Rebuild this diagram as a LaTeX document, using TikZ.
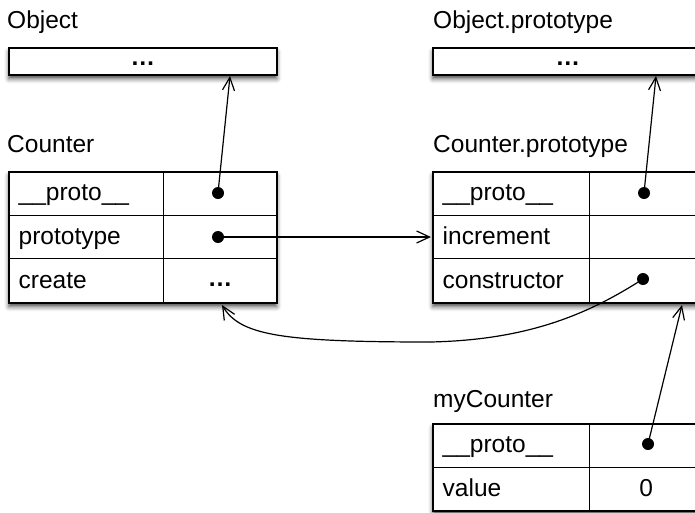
\documentclass[tikz,border=0pt]{standalone}
\usepackage{fontspec}
\setmainfont{Liberation Sans}
\usetikzlibrary{arrows.meta,shadows.blur}
\begin{document}
\begin{tikzpicture}[x=1pt,y=-1pt,
  txt/.style={font=\fontsize{24.5}{29}\selectfont},
  lbl/.style={txt, anchor=base west, inner sep=0pt},
  frame/.style={draw=black, line width=1.6pt, fill=white, anchor=north west, inner sep=0pt,
    blur shadow={shadow xshift=0pt, shadow yshift=-4pt, shadow blur radius=4.5pt, shadow opacity=70}},
  cell/.style={txt, draw=black, line width=1.4pt, anchor=north west, inner ysep=0pt,
    text height=18pt, text depth=3pt},
  keycell/.style={cell, align=left, inner xsep=10pt, text width=#1},
  valcell/.style={cell, align=center, inner xsep=0pt, text width=#1},
  dot/.style={circle, fill=black, inner sep=0pt, minimum size=12pt},
  conn/.style={line width=1.2pt, -{Straight Barb[length=13pt,width=12pt,line width=1.2pt]}}
]
\useasboundingbox (0,0) rectangle (695,512);

% ---- Object
\node[lbl] (objlbl) at (7,28) {Object};
\node[frame, txt, minimum width=268pt, minimum height=27pt, text height=8pt, text depth=0pt]
  (obj) at (8,47) {\textbf{…}};

% ---- Object.prototype
\node[lbl] (oplbl) at (433,28) {Object.prototype};
\node[frame, txt, minimum width=270pt, minimum height=27pt, text height=8pt, text depth=0pt]
  (op) at (432,47) {\textbf{…}};

% ---- Counter
\node[lbl] (clbl) at (7,152) {Counter};
\node[frame, minimum width=268pt, minimum height=131pt] (counter) at (8,171) {};
\node[keycell=135pt, minimum height=43.5pt] (ck1) at (8,171) {\_\_proto\_\_};
\node[valcell=113pt, minimum height=43.5pt] (cv1) at (163,171) {};
\node[keycell=135pt, minimum height=43.5pt] (ck2) at (8,214.5) {prototype};
\node[valcell=113pt, minimum height=43.5pt] (cv2) at (163,214.5) {};
\node[keycell=135pt, minimum height=44pt] (ck3) at (8,258) {create};
\node[valcell=113pt, minimum height=44pt, text height=14pt] (cv3) at (163,258) {\textbf{…}};

% ---- Counter.prototype
\node[lbl] (cplbl) at (433,152) {Counter.prototype};
\node[frame, minimum width=270pt, minimum height=131pt] (cproto) at (432,171) {};
\node[keycell=137pt, minimum height=43.5pt] (pk1) at (432,171) {\_\_proto\_\_};
\node[valcell=113pt, minimum height=43.5pt] (pv1) at (589,171) {};
\node[keycell=137pt, minimum height=43.5pt] (pk2) at (432,214.5) {increment};
\node[valcell=113pt, minimum height=43.5pt] (pv2) at (589,214.5) {};
\node[keycell=137pt, minimum height=44pt] (pk3) at (432,258) {constructor};
\node[valcell=113pt, minimum height=44pt] (pv3) at (589,258) {};

% ---- myCounter
\node[lbl] (mlbl) at (433,407) {myCounter};
\node[frame, minimum width=270pt, minimum height=87pt] (mycounter) at (432,423) {};
\node[keycell=137pt, minimum height=43.5pt] (mk1) at (432,423) {\_\_proto\_\_};
\node[valcell=113pt, minimum height=43.5pt] (mv1) at (589,423) {};
\node[keycell=137pt, minimum height=43.5pt] (mk2) at (432,466.5) {value};
\node[valcell=113pt, minimum height=43.5pt] (mv2) at (589,466.5) {0};

% ---- dots
\node[dot] (d1) at (218,193) {};
\node[dot] (d2) at (218,237) {};
\node[dot] (d3) at (644,193) {};
\node[dot] (d4) at (643,279) {};
\node[dot] (d5) at (648,444) {};

% ---- arrow ends
\coordinate (objtip) at (230,76);
\coordinate (optip) at (656,76);
\coordinate (incrtip) at (431,237);
\coordinate (ctip) at (222,305);
\coordinate (cptip) at (682,305);
\coordinate (cmid) at (430,342);

% ---- connectors
\draw[conn] (d1.center) -- (objtip);
\draw[conn] (d3.center) -- (optip);
\draw[conn] (d2.center) -- (incrtip);
\draw[conn] (d5.center) -- (cptip);
\draw[line width=1.2pt] (d4.center) .. controls (590,313) and (530,340) .. (cmid);
\draw[conn] (cmid) .. controls (280,342) and (240,335) .. (ctip);
\end{tikzpicture}
\end{document}
